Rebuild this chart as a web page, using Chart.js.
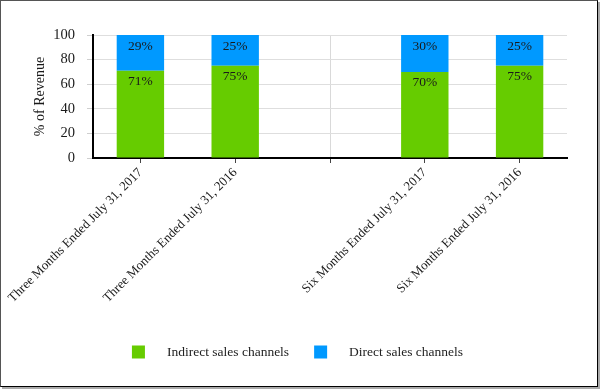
<!DOCTYPE html>
<html>
<head>
<meta charset="utf-8">
<script src="https://cdn.jsdelivr.net/npm/chart.js@4.4.0/dist/chart.umd.min.js"></script>
<style>
  body { margin: 0; background: #fff; }
  #frame {
    position: absolute; left: 0; top: 0;
    width: 596px; height: 385px;
    border-left: 1px solid #555; border-top: 1px solid #555;
    border-right: 1px solid #000; border-bottom: 1px solid #000;
    box-shadow: 2px 2px 0 #aaa;
  }
  #chart { position: absolute; left: 0; top: 0; }
</style>
</head>
<body>
<div id="frame"></div>
<canvas id="chart" width="601" height="390"></canvas>
<script>
// chart data
const periods = [
    "Three Months Ended July 31, 2017",
    "Three Months Ended July 31, 2016",
    "",
    "Six Months Ended July 31, 2017",
    "Six Months Ended July 31, 2016"
];
const indirectShare = [71, 75, null, 70, 75];
const directShare = [29, 25, null, 30, 25];
const yTicks = [0, 20, 40, 60, 80, 100];
const seriesNames = ["Indirect sales channels", "Direct sales channels"];
const seriesColors = ["#66cc00", "#0099ff"];

const serif = "'Liberation Serif', 'Times New Roman', serif";

// percent labels near the top of each segment
const segmentLabels = {
    id: 'segmentLabels',
    afterDatasetsDraw(chart) {
        const ctx = chart.ctx;
        ctx.save();
        ctx.font = "13.5px " + serif;
        ctx.fillStyle = '#1a1a1a';
        ctx.textAlign = 'center';
        ctx.textBaseline = 'middle';
        chart.data.datasets.forEach((ds, i) => {
            chart.getDatasetMeta(i).data.forEach((bar, j) => {
                const v = ds.data[j];
                if (v === null || v === undefined) return;
                ctx.fillText(v + '%', bar.x, bar.y + 11);
            });
        });
        ctx.restore();
    }
};

// legend drawn by hand to get the wide box/text gap
const bottomLegend = {
    id: 'bottomLegend',
    afterDraw(chart) {
        const ctx = chart.ctx;
        ctx.save();
        ctx.font = "13.5px " + serif;
        ctx.textBaseline = 'middle';
        const box = 13, gap = 22, between = 25;
        let total = 0;
        seriesNames.forEach((n, i) => {
            total += box + gap + ctx.measureText(n).width;
            if (i < seriesNames.length - 1) total += between;
        });
        let x = chart.width / 2 - 3 - total / 2;
        const y = 352;
        seriesNames.forEach((n, i) => {
            ctx.fillStyle = seriesColors[i];
            ctx.fillRect(x, y - box / 2, box, box);
            x += box + gap;
            ctx.fillStyle = '#222';
            ctx.fillText(n, x, y);
            x += ctx.measureText(n).width + between;
        });
        ctx.restore();
    }
};

const ctx = document.getElementById('chart').getContext('2d');
new Chart(ctx, {
    type: 'bar',
    data: {
        labels: periods,
        datasets: [
            {
                label: seriesNames[0],
                data: indirectShare,
                backgroundColor: seriesColors[0],
                borderWidth: 0,
                barPercentage: 0.5,
                categoryPercentage: 1.0
            },
            {
                label: seriesNames[1],
                data: directShare,
                backgroundColor: seriesColors[1],
                borderWidth: 0,
                barPercentage: 0.5,
                categoryPercentage: 1.0
            }
        ]
    },
    options: {
        responsive: false,
        animation: false,
        layout: {
            padding: { top: 35, left: 28, right: 34, bottom: 0 }
        },
        plugins: {
            legend: { display: false },
            tooltip: { enabled: false }
        },
        scales: {
            x: {
                stacked: true,
                afterFit(scale) {
                    scale.height = 390 - 158;
                    scale.paddingLeft = 0;
                    scale.paddingRight = 0;
                },
                border: { color: '#000', width: 2 },
                grid: {
                    offset: false,
                    color: c => c.index === 2 ? '#d9d9d9' : 'rgba(0,0,0,0)',
                    tickColor: '#444',
                    tickLength: 5
                },
                ticks: {
                    autoSkip: false,
                    minRotation: 45,
                    maxRotation: 45,
                    padding: 2,
                    color: '#1a1a1a',
                    font: { family: serif, size: 13 }
                }
            },
            y: {
                stacked: true,
                min: 0,
                max: 100,
                afterFit(scale) { scale.width = 93 - 28; },
                afterBuildTicks(scale) {
                    scale.ticks = yTicks.map(v => ({ value: v }));
                },
                border: { color: '#000', width: 2 },
                grid: {
                    color: '#dedede',
                    tickColor: '#cfcfcf',
                    tickLength: 6
                },
                ticks: {
                    padding: 12,
                    color: '#1a1a1a',
                    font: { family: serif, size: 14.5 }
                },
                title: {
                    display: true,
                    text: '% of Revenue',
                    color: '#1a1a1a',
                    font: { family: serif, size: 14 }
                }
            }
        }
    },
    plugins: [segmentLabels, bottomLegend]
});
</script>
</body>
</html>
